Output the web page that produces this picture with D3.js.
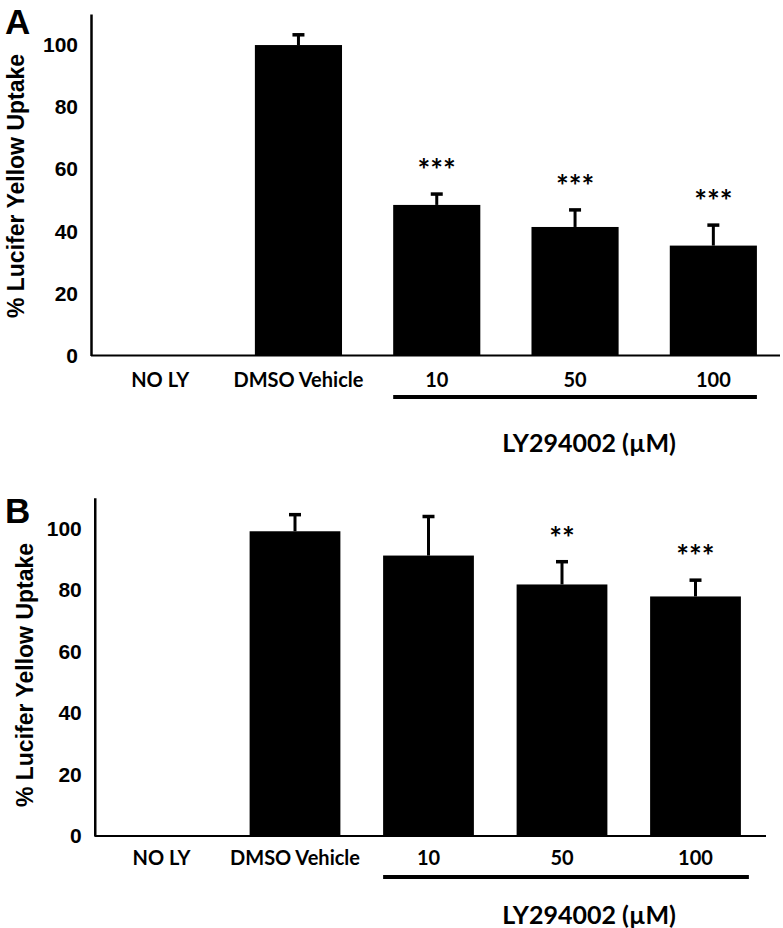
<!DOCTYPE html>
<html>
<head>
<meta charset="utf-8">
<script src="https://cdn.jsdelivr.net/npm/d3@7"></script>
<style>
  html, body { margin: 0; padding: 0; background: #fff; }
  svg { display: block; }
</style>
</head>
<body>
<div id="chart"></div>
<script>
// ---- Data ----
const categories = ["NO LY", "DMSO Vehicle", "10", "50", "100"];
const valuesA = [0, 100, 48.5, 41.4, 35.4];
const errorsA = [0, 3.3, 3.5, 5.5, 6.6];
const sigA = ["", "", "***", "***", "***"];
const valuesB = [0, 99.1, 91.2, 81.8, 77.9];
const errorsB = [0, 5.4, 12.7, 7.4, 5.3];
const sigB = ["", "", "", "**", "***"];
const yTicks = [0, 20, 40, 60, 80, 100];
const groupTitle = "LY294002 (\u00b5M)";
const yTitle = "% Lucifer Yellow Uptake";
const groupedCats = ["10", "50", "100"];

const W = 783, H = 928;
const svg = d3.select("#chart").append("svg")
  .attr("width", W).attr("height", H)
  .attr("viewBox", `0 0 ${W} ${H}`);
svg.append("rect").attr("width", W).attr("height", H).attr("fill", "#fff");

const labelFont = "Lato, 'Open Sans', sans-serif";
const axisFont = "'Liberation Sans', Arial, sans-serif";

function drawPanel(cfg) {
  const { letter, values, errors, sig, xRange, padIn, yRange, xAxisEnd,
          letterPos, yTitlePos, catPad, underlineY, underlineExtra, titleY, titleX } = cfg;
  const x = d3.scaleBand().domain(categories).range(xRange)
    .paddingInner(padIn).paddingOuter(padIn / 2);
  const y = d3.scaleLinear().domain([0, 110]).range(yRange);
  const g = svg.append("g");

  // bars
  g.selectAll("rect.bar").data(categories).join("rect")
    .attr("class", "bar")
    .attr("x", d => x(d))
    .attr("width", x.bandwidth())
    .attr("y", (d, i) => y(values[i]))
    .attr("height", (d, i) => y(0) - y(values[i]))
    .attr("fill", "#000");

  // error bars (upper only)
  const eb = categories.map((c, i) => ({ c, v: values[i], e: errors[i], s: sig[i] }))
    .filter(d => d.e > 0);
  g.selectAll("line.stem").data(eb).join("line")
    .attr("x1", d => x(d.c) + x.bandwidth() / 2)
    .attr("x2", d => x(d.c) + x.bandwidth() / 2)
    .attr("y1", d => y(d.v))
    .attr("y2", d => y(d.v + d.e))
    .attr("stroke", "#000").attr("stroke-width", 3);
  g.selectAll("line.cap").data(eb).join("line")
    .attr("x1", d => x(d.c) + x.bandwidth() / 2 - 6)
    .attr("x2", d => x(d.c) + x.bandwidth() / 2 + 6)
    .attr("y1", d => y(d.v + d.e))
    .attr("y2", d => y(d.v + d.e))
    .attr("stroke", "#000").attr("stroke-width", 3.5);

  // significance
  g.selectAll("text.sig").data(eb.filter(d => d.s)).join("text")
    .attr("x", d => x(d.c) + x.bandwidth() / 2)
    .attr("y", d => y(d.v + d.e) - 13)
    .attr("text-anchor", "middle")
    .attr("font-family", labelFont).attr("font-weight", "bold")
    .attr("font-size", 30)
    .text(d => d.s);

  // y axis
  const ya = g.append("g").attr("transform", `translate(${xRange[0]},0)`)
    .call(d3.axisLeft(y).tickValues(yTicks).tickSize(0).tickSizeOuter(0).tickPadding(13));
  ya.select(".domain").attr("stroke-width", 2.5);
  ya.selectAll("text").attr("font-family", axisFont).attr("font-weight", "bold")
    .attr("font-size", 21).attr("fill", "#000");

  // x axis
  const xa = g.append("g").attr("transform", `translate(0,${y(0)})`)
    .call(d3.axisBottom(x).tickSize(0).tickSizeOuter(0).tickPadding(catPad));
  xa.select(".domain").remove();
  xa.selectAll("text").attr("font-family", labelFont).attr("font-weight", "bold")
    .attr("font-size", 20).attr("fill", "#000");
  g.append("line")
    .attr("x1", xRange[0]).attr("x2", xAxisEnd)
    .attr("y1", y(0)).attr("y2", y(0))
    .attr("stroke", "#000").attr("stroke-width", 2);

  // group underline
  g.append("line")
    .attr("x1", x(groupedCats[0]))
    .attr("x2", x(groupedCats[groupedCats.length - 1]) + x.bandwidth() + underlineExtra)
    .attr("y1", underlineY).attr("y2", underlineY)
    .attr("stroke", "#000").attr("stroke-width", 4);
  g.append("text")
    .attr("x", titleX).attr("y", titleY)
    .attr("text-anchor", "middle")
    .attr("font-family", labelFont).attr("font-weight", "bold")
    .attr("font-size", 25).text(groupTitle);

  // y title
  g.append("text")
    .attr("transform", `translate(${yTitlePos[0]},${yTitlePos[1]}) rotate(-90)`)
    .attr("text-anchor", "middle")
    .attr("font-family", axisFont).attr("font-weight", "bold")
    .attr("font-size", 23).text(yTitle);

  // panel letter
  g.append("text")
    .attr("x", letterPos[0]).attr("y", letterPos[1])
    .attr("font-family", axisFont).attr("font-weight", "bold")
    .attr("font-size", 35).text(letter);
}

drawPanel({
  letter: "A", values: valuesA, errors: errorsA, sig: sigA,
  xRange: [91, 782.5], padIn: 0.37, yRange: [355.5, 14], xAxisEnd: 780,
  letterPos: [5, 34], yTitlePos: [24, 186], catPad: 17,
  underlineY: 397, underlineExtra: 0, titleY: 452, titleX: 589
});
drawPanel({
  letter: "B", values: valuesB, errors: errorsB, sig: sigB,
  xRange: [94.75, 762.25], padIn: 0.32, yRange: [836, 497.75], xAxisEnd: 766,
  letterPos: [5, 523], yTitlePos: [33, 675], catPad: 15,
  underlineY: 877, underlineExtra: 8, titleY: 924, titleX: 589
});
</script>
</body>
</html>
